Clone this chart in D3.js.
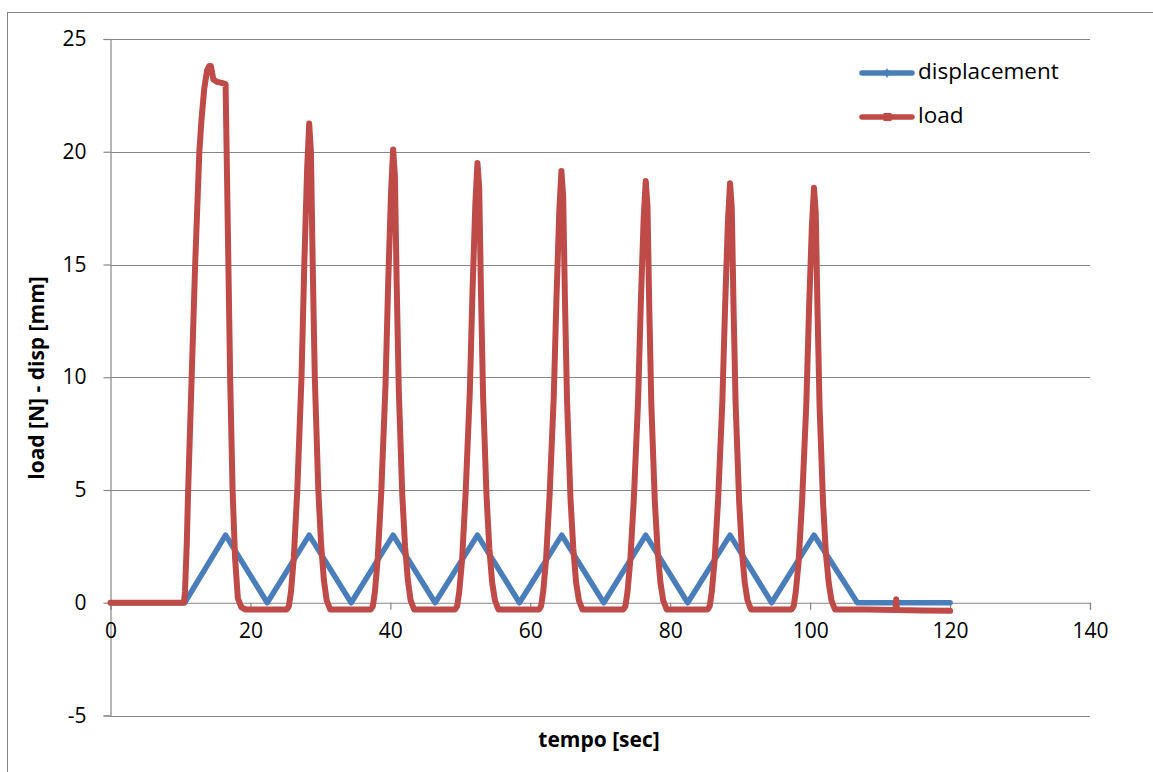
<!DOCTYPE html>
<html>
<head>
<meta charset="utf-8">
<script src="https://cdn.jsdelivr.net/npm/d3@7"></script>
<style>
  body { margin: 0; background: #fff; }
  svg { display: block; font-family: "Open Sans", Lato, sans-serif; }
</style>
</head>
<body>
<svg id="chart" width="1153" height="772"></svg>
<script>
// displacement: triangle wave [time (s), disp (mm)]
const dispTime = [0, 10.6, 16.45, 22.4, 28.4, 34.4, 40.4, 46.4, 52.45, 58.45, 64.5, 70.5, 76.5, 82.5, 88.55, 94.5, 100.55, 106.75, 120];
const dispValue = [0, 0, 3, 0, 3, 0, 3, 0, 3, 0, 3, 0, 3, 0, 3, 0, 3, 0, 0];

// load, one cycle per row
const loadTime = [
  0, 5, 10.5, 10.65, 10.9, 11.1, 11.6, 12.1, 12.7, 13.0, 13.4, 13.8, 14.1, 14.35, 14.7, 15.2, 16.0, 16.45, 16.6, 16.85, 17.1, 17.45, 17.8, 18.2, 18.7, 19.3,
  25.2, 25.5, 25.8, 26.2, 26.7, 27.3, 27.7, 28.1, 28.4, 28.65, 28.9, 29.2, 29.7, 30.1, 30.5, 30.9, 31.4,
  37.2, 37.5, 37.8, 38.2, 38.7, 39.3, 39.7, 40.1, 40.4, 40.65, 40.9, 41.2, 41.7, 42.1, 42.5, 42.9, 43.4,
  49.25, 49.55, 49.85, 50.25, 50.75, 51.35, 51.75, 52.15, 52.45, 52.7, 52.95, 53.25, 53.75, 54.15, 54.55, 54.95, 55.45,
  61.25, 61.55, 61.85, 62.25, 62.75, 63.35, 63.75, 64.15, 64.45, 64.7, 64.95, 65.25, 65.75, 66.15, 66.55, 66.95, 67.45,
  73.3, 73.6, 73.9, 74.3, 74.8, 75.4, 75.8, 76.2, 76.5, 76.75, 77.0, 77.3, 77.8, 78.2, 78.6, 79.0, 79.5,
  85.35, 85.65, 85.95, 86.35, 86.85, 87.45, 87.85, 88.25, 88.55, 88.8, 89.05, 89.35, 89.85, 90.25, 90.65, 91.05, 91.55,
  97.35, 97.65, 97.95, 98.35, 98.85, 99.45, 99.85, 100.25, 100.55, 100.8, 101.05, 101.35, 101.85, 102.25, 102.65, 103.05, 103.55,
  108, 112.2, 112.3, 112.4, 116, 120
];
const loadValue = [
  0, 0, 0, 0.5, 2.6, 5, 10, 15, 20, 21.4, 22.8, 23.6, 23.8, 23.8, 23.2, 23.1, 23.05, 23.0, 20, 15, 10, 5, 2, 0.2, -0.2, -0.3,
  -0.3, -0.15, 0.5, 2.0, 5.0, 10.0, 15.0, 19.2, 21.25, 20.0, 15.0, 10.0, 5.0, 2.6, 1.0, 0.1, -0.3,
  -0.3, -0.15, 0.5, 2.0, 4.9, 9.6, 14.3, 18.2, 20.1, 18.9, 14.2, 9.5, 4.8, 2.5, 1.0, 0.1, -0.3,
  -0.3, -0.15, 0.5, 1.9, 4.8, 9.3, 13.9, 17.7, 19.5, 18.4, 13.8, 9.2, 4.7, 2.4, 0.9, 0.1, -0.3,
  -0.3, -0.15, 0.5, 1.9, 4.7, 9.1, 13.6, 17.4, 19.15, 18.0, 13.5, 9.0, 4.6, 2.4, 0.9, 0.1, -0.3,
  -0.3, -0.15, 0.5, 1.9, 4.6, 8.9, 13.3, 17.0, 18.7, 17.6, 13.2, 8.8, 4.5, 2.3, 0.9, 0.1, -0.3,
  -0.3, -0.15, 0.5, 1.9, 4.6, 8.9, 13.2, 16.9, 18.6, 17.5, 13.1, 8.8, 4.5, 2.3, 0.9, 0.1, -0.3,
  -0.3, -0.15, 0.5, 1.8, 4.5, 8.8, 13.1, 16.7, 18.4, 17.3, 13.0, 8.7, 4.4, 2.2, 0.9, 0.1, -0.3,
  -0.3, -0.32, 0.15, -0.32, -0.34, -0.36
];

const xTicks = [0, 20, 40, 60, 80, 100, 120, 140];
const yTicks = [-5, 0, 5, 10, 15, 20, 25];
const seriesNames = ["displacement", "load"];

const xTitle = "tempo [sec]";
const yTitle = "load [N] - disp [mm]";

const colors = { displacement: "#4a7ebb", load: "#be4b48" };
const gridColor = "#868686";
const font = "'Open Sans', Lato, sans-serif";

const svg = d3.select("#chart");

// chart border (runs off the right and bottom edge)
svg.append("rect")
    .attr("x", 7.5)
    .attr("y", 12.5)
    .attr("width", 1300)
    .attr("height", 900)
    .attr("fill", "white")
    .attr("stroke", gridColor)
    .attr("stroke-width", 1);

const xScale = d3.scaleLinear().domain([0, 140]).range([110.5, 1090]);
const yScale = d3.scaleLinear().domain([-5, 25]).range([715.5, 39]);

// horizontal gridlines (0 is the x axis itself)
svg.append("g")
    .selectAll("line")
    .data(yTicks.filter(d => d !== 0))
    .join("line")
    .attr("x1", xScale(0))
    .attr("x2", xScale(140))
    .attr("y1", d => Math.round(yScale(d)) + 0.5)
    .attr("y2", d => Math.round(yScale(d)) + 0.5)
    .attr("stroke", gridColor)
    .attr("stroke-width", 1.2);

// y axis
const yAxis = d3.axisLeft(yScale).tickValues(yTicks).tickFormat(d => String(d)).tickSize(7).tickPadding(17);
const gy = svg.append("g")
    .attr("transform", `translate(${xScale(0)},0)`)
    .call(yAxis);
gy.select(".domain").attr("stroke", gridColor).attr("stroke-width", 1.2);
gy.selectAll(".tick line").attr("stroke", gridColor).attr("stroke-width", 1.2);
gy.selectAll(".tick text")
    .attr("fill", "black")
    .style("font-size", "21px")
    .style("font-family", font);

// x axis sits on y = 0
const xAxis = d3.axisBottom(xScale).tickValues(xTicks).tickFormat(d => String(d)).tickSize(7).tickPadding(13);
const gx = svg.append("g")
    .attr("transform", `translate(0,${yScale(0)})`)
    .call(xAxis);
gx.select(".domain").attr("stroke", gridColor).attr("stroke-width", 1.2);
gx.selectAll(".tick line").attr("stroke", gridColor).attr("stroke-width", 1.2);
gx.selectAll(".tick text")
    .attr("fill", "black")
    .style("font-size", "21px")
    .style("font-family", font);

// series
const dispData = dispTime.map((t, i) => [t, dispValue[i]]);
const loadData = loadTime.map((t, i) => [t, loadValue[i]]);

const line = d3.line()
    .x(d => xScale(d[0]))
    .y(d => yScale(d[1]));

svg.append("path")
    .datum(dispData)
    .attr("d", line)
    .attr("fill", "none")
    .attr("stroke", colors.displacement)
    .attr("stroke-width", 5.5)
    .attr("stroke-linejoin", "round")
    .attr("stroke-linecap", "round");

svg.append("path")
    .datum(loadData)
    .attr("d", line)
    .attr("fill", "none")
    .attr("stroke", colors.load)
    .attr("stroke-width", 6)
    .attr("stroke-linejoin", "round")
    .attr("stroke-linecap", "round");

// axis titles
svg.append("text")
    .attr("x", 599)
    .attr("y", 741)
    .attr("text-anchor", "middle")
    .attr("dominant-baseline", "middle")
    .style("font-size", "21px")
    .style("font-weight", "bold")
    .text(xTitle);

svg.append("text")
    .attr("transform", `translate(38,378) rotate(-90)`)
    .attr("text-anchor", "middle")
    .attr("dominant-baseline", "middle")
    .style("font-size", "21px")
    .style("font-weight", "bold")
    .text(yTitle);

// legend
const legend = svg.append("g").attr("transform", "translate(860,73)");
seriesNames.forEach((name, i) => {
    const item = legend.append("g").attr("transform", `translate(0,${i * 44})`);
    item.append("line")
        .attr("x1", 2).attr("x2", 52)
        .attr("y1", 0).attr("y2", 0)
        .attr("stroke", colors[name])
        .attr("stroke-width", 5.5)
        .attr("stroke-linecap", "round");
    if (name === "displacement") {
        item.append("path")
            .attr("d", d3.symbol().type(d3.symbolDiamond).size(30))
            .attr("transform", "translate(27,0)")
            .attr("fill", colors[name]);
    } else {
        item.append("rect")
            .attr("x", 23.5).attr("y", -4)
            .attr("width", 8).attr("height", 8)
            .attr("fill", colors[name]);
    }
    item.append("text")
        .attr("x", 58)
        .attr("y", 0)
        .attr("dominant-baseline", "middle")
        .style("font-size", "22.5px")
        .text(name);
});
</script>
</body>
</html>
